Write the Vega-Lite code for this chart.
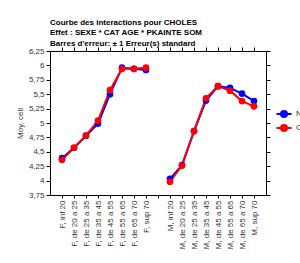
{
  "$schema": "https://vega.github.io/schema/vega-lite/v6.json",
  "autosize": "none",
  "width": 216,
  "height": 144,
  "padding": {"left": 50, "top": 51, "right": 34, "bottom": 68},
  "background": "#ffffff",
  "title": {
    "text": ["Courbe des interactions pour CHOLES", "Effet : SEXE * CAT AGE * PKAINTE SOM", "Barres d'erreur: ± 1 Erreur(s) standard"],
    "anchor": "start",
    "frame": "group",
    "font": "Liberation Sans",
    "fontSize": 8,
    "fontWeight": "bold",
    "color": "#000000",
    "lineHeight": 10.5,
    "offset": -1
  },
  "data": {
    "values": [
      {"cat": "F, inf 20", "sexe": "F", "grp": "Non", "val": 4.39},
      {"cat": "F, de 20 a 25", "sexe": "F", "grp": "Non", "val": 4.57},
      {"cat": "F, de 25 a 35", "sexe": "F", "grp": "Non", "val": 4.78},
      {"cat": "F, de 35 a 45", "sexe": "F", "grp": "Non", "val": 4.99},
      {"cat": "F, de 45 a 55", "sexe": "F", "grp": "Non", "val": 5.5},
      {"cat": "F, de 55 a 65", "sexe": "F", "grp": "Non", "val": 5.96},
      {"cat": "F, de 65 a 70", "sexe": "F", "grp": "Non", "val": 5.94},
      {"cat": "F, sup 70", "sexe": "F", "grp": "Non", "val": 5.92},
      {"cat": "M, inf 20", "sexe": "M", "grp": "Non", "val": 4.03},
      {"cat": "M, de 20 a 25", "sexe": "M", "grp": "Non", "val": 4.27},
      {"cat": "M, de 25 a 35", "sexe": "M", "grp": "Non", "val": 4.86},
      {"cat": "M, de 35 a 45", "sexe": "M", "grp": "Non", "val": 5.39},
      {"cat": "M, de 45 a 55", "sexe": "M", "grp": "Non", "val": 5.64},
      {"cat": "M, de 55 a 65", "sexe": "M", "grp": "Non", "val": 5.61},
      {"cat": "M, de 65 a 70", "sexe": "M", "grp": "Non", "val": 5.51},
      {"cat": "M, sup 70", "sexe": "M", "grp": "Non", "val": 5.38},
      {"cat": "F, inf 20", "sexe": "F", "grp": "Oui", "val": 4.36},
      {"cat": "F, de 20 a 25", "sexe": "F", "grp": "Oui", "val": 4.57},
      {"cat": "F, de 25 a 35", "sexe": "F", "grp": "Oui", "val": 4.78},
      {"cat": "F, de 35 a 45", "sexe": "F", "grp": "Oui", "val": 5.04},
      {"cat": "F, de 45 a 55", "sexe": "F", "grp": "Oui", "val": 5.57},
      {"cat": "F, de 55 a 65", "sexe": "F", "grp": "Oui", "val": 5.94},
      {"cat": "F, de 65 a 70", "sexe": "F", "grp": "Oui", "val": 5.94},
      {"cat": "F, sup 70", "sexe": "F", "grp": "Oui", "val": 5.96},
      {"cat": "M, inf 20", "sexe": "M", "grp": "Oui", "val": 3.98},
      {"cat": "M, de 20 a 25", "sexe": "M", "grp": "Oui", "val": 4.26},
      {"cat": "M, de 25 a 35", "sexe": "M", "grp": "Oui", "val": 4.86},
      {"cat": "M, de 35 a 45", "sexe": "M", "grp": "Oui", "val": 5.43},
      {"cat": "M, de 45 a 55", "sexe": "M", "grp": "Oui", "val": 5.64},
      {"cat": "M, de 55 a 65", "sexe": "M", "grp": "Oui", "val": 5.56},
      {"cat": "M, de 65 a 70", "sexe": "M", "grp": "Oui", "val": 5.38},
      {"cat": "M, sup 70", "sexe": "M", "grp": "Oui", "val": 5.29}
    ]
  },
  "config": {
    "view": {"stroke": null},
    "font": "Liberation Sans",
    "axis": {
      "domainColor": "#000000",
      "tickColor": "#000000",
      "tickSize": 4,
      "labelFont": "Liberation Sans",
      "labelFontSize": 8,
      "labelColor": "#333333",
      "titleFont": "Liberation Sans",
      "titleFontSize": 8,
      "titleFontWeight": "normal",
      "titleColor": "#333333",
      "grid": false
    }
  },
  "resolve": {"axis": {"x": "independent", "y": "independent"}},
  "layer": [
    {
      "mark": {"type": "line", "strokeWidth": 2},
      "encoding": {
        "x": {
          "field": "cat", "type": "nominal",
          "scale": {"type": "point", "padding": 1, "domain": ["F, inf 20", "F, de 20 a 25", "F, de 25 a 35", "F, de 35 a 45", "F, de 45 a 55", "F, de 55 a 65", "F, de 65 a 70", "F, sup 70", " ", "M, inf 20", "M, de 20 a 25", "M, de 25 a 35", "M, de 35 a 45", "M, de 45 a 55", "M, de 55 a 65", "M, de 65 a 70", "M, sup 70"]},
          "axis": {"orient": "bottom", "title": null, "labelAngle": -90, "labelPadding": 2, "tickSize": 3}
        },
        "y": {
          "field": "val", "type": "quantitative",
          "scale": {"domain": [3.75, 6.25], "nice": false, "zero": false},
          "axis": {"orient": "left", "title": "Moy. cell", "values": [3.75, 4, 4.25, 4.5, 4.75, 5, 5.25, 5.5, 5.75, 6, 6.25], "labelExpr": "replace(format(datum.value, '.2~f'), '.', ',')", "titlePadding": 4, "labelPadding": 2}
        },
        "color": {
          "field": "grp", "type": "nominal",
          "scale": {"domain": ["Non", "Oui"], "range": ["#0000ff", "#ff0000"]},
          "legend": {
            "orient": "none", "legendX": 227, "legendY": 56, "title": null,
            "symbolType": "M-1.25,0L1.25,0M-0.5,0A0.5,0.5,0,1,0,0.5,0A0.5,0.5,0,1,0,-0.5,0",
            "symbolSize": 144, "symbolStrokeWidth": 2, "labelFontSize": 8, "labelColor": "#333333", "labelOffset": 5, "rowPadding": 0,
            "encode": {"symbols": {"update": {"shape": {"value": "M-1.25,0L1.25,0M-0.5,0A0.5,0.5,0,1,0,0.5,0A0.5,0.5,0,1,0,-0.5,0"}, "stroke": {"scale": "color", "field": "value"}, "fill": {"scale": "color", "field": "value"}, "strokeWidth": {"value": 2}, "size": {"value": 144}, "opacity": {"value": 1}}}}
          }
        },
        "detail": {"field": "sexe"}
      }
    },
    {
      "mark": {"type": "point", "filled": true, "size": 45, "opacity": 1},
      "encoding": {
        "x": {"field": "cat", "type": "nominal", "axis": {"orient": "top", "title": null, "labels": false}},
        "y": {"field": "val", "type": "quantitative", "axis": {"orient": "right", "title": null, "labels": false, "values": [3.75, 4, 4.25, 4.5, 4.75, 5, 5.25, 5.5, 5.75, 6, 6.25]}},
        "color": {"field": "grp", "type": "nominal", "legend": null}
      }
    }
  ]
}
